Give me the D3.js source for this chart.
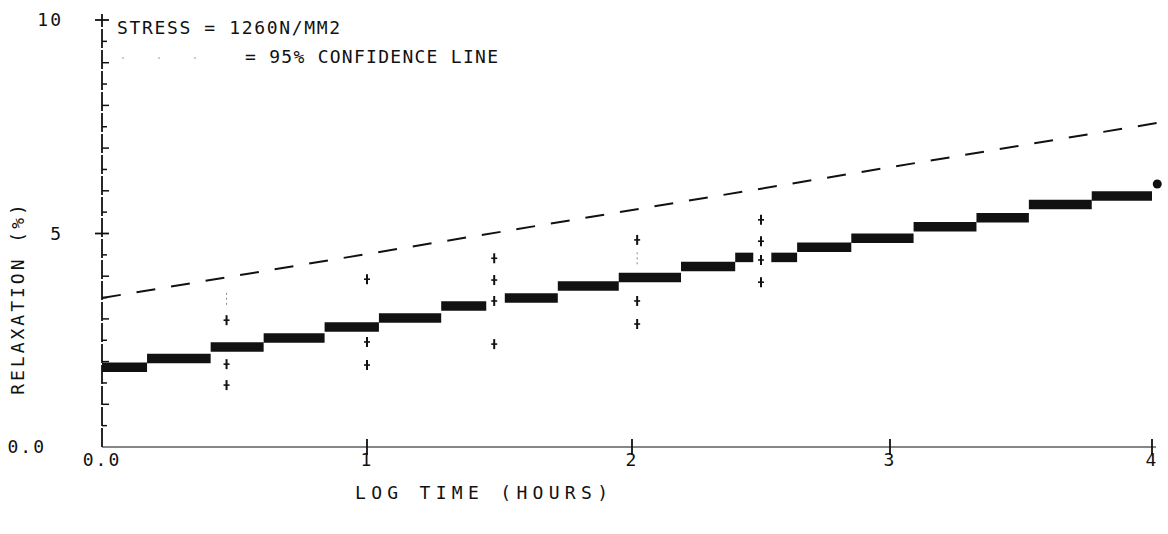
<!DOCTYPE html>
<html>
<head>
<meta charset="utf-8">
<script src="https://cdn.jsdelivr.net/npm/d3@7"></script>
<style>
  html, body { margin: 0; padding: 0; background: #fff; }
  svg { display: block; }
  text { font-family: "DejaVu Sans Mono", "Liberation Mono", monospace; fill: #111; }
</style>
</head>
<body>
<svg id="chart" width="1168" height="534"></svg>
<script>
// Relaxation step record (log hours vs %)
const stepStart = [0, 0.17, 0.41, 0.61, 0.84, 1.045, 1.28, 1.52, 1.72, 1.95, 2.19, 2.40, 2.54, 2.64, 2.85, 3.09, 3.33, 3.53, 3.77];
const stepEnd   = [0.17, 0.41, 0.61, 0.84, 1.045, 1.28, 1.45, 1.72, 1.95, 2.19, 2.40, 2.47, 2.64, 2.85, 3.09, 3.33, 3.53, 3.77, 4.00];
const stepValue = [1.87, 2.07, 2.34, 2.55, 2.81, 3.02, 3.30, 3.49, 3.77, 3.97, 4.23, 4.44, 4.44, 4.68, 4.89, 5.16, 5.37, 5.68, 5.88];
const lastPoint = [4.02, 6.16];

// 95% confidence line end points
const confX = [0, 4.05];
const confY = [3.49, 7.62];

// scatter marks along the vertical check columns
const checkX = [0.47, 1.0, 1.48, 2.02, 2.5];
const checkMarks = [
  [2.97, 1.94, 1.45],
  [3.93, 2.46, 1.92],
  [4.42, 3.91, 3.42, 2.41],
  [4.85, 3.42, 2.88],
  [5.32, 4.82, 4.38, 3.86]
];
const faintMarks = [[0.47, 3.47], [2.02, 4.42]];

const xTicks = [0, 1, 2, 3, 4];
const xTickLabels = ["0.0", "1", "2", "3", "4"];
const yTicks = [0, 5, 10];
const yTickLabels = ["0.0", "5", "10"];

const svg = d3.select("#chart");

// plotter axes are slightly uneven, so the x scale is piecewise
const x = d3.scaleLinear().domain([0, 1, 2, 3, 4]).range([102, 367, 632, 890, 1152]);
const y = d3.scaleLinear().domain([0, 10]).range([447, 20]);

const ink = "#111";

// y axis line
svg.append("line")
  .attr("x1", x(0)).attr("x2", x(0))
  .attr("y1", y(0)).attr("y2", y(10) - 6)
  .attr("stroke", ink).attr("stroke-width", 1.8)
  .attr("stroke-dasharray", "19,2");

// x axis line
svg.append("line")
  .attr("x1", x(0)).attr("x2", x(4) + 4)
  .attr("y1", y(0)).attr("y2", y(0))
  .attr("stroke", ink).attr("stroke-width", 1.2);

// y minor ticks every 0.5, crosses at labelled values
const yMinor = y.ticks(20).filter(v => v > 0 && yTicks.indexOf(v) < 0);
svg.append("g").selectAll("line").data(yMinor).join("line")
  .attr("x1", x(0)).attr("x2", (d) => x(0) + (d % 1 === 0 ? 7 : 5))
  .attr("y1", d => y(d)).attr("y2", d => y(d))
  .attr("stroke", ink).attr("stroke-width", 1.5);
svg.append("g").selectAll("line").data(yTicks.filter(v => v > 0)).join("line")
  .attr("x1", x(0) - 7).attr("x2", x(0) + 7)
  .attr("y1", d => y(d)).attr("y2", d => y(d))
  .attr("stroke", ink).attr("stroke-width", 1.8);

// x crosses
svg.append("g").selectAll("line").data(xTicks.filter(v => v > 0)).join("line")
  .attr("x1", d => x(d)).attr("x2", d => x(d))
  .attr("y1", y(0) - 8).attr("y2", y(0) + 8)
  .attr("stroke", ink).attr("stroke-width", 1.8);

// tick labels; the origin label on y sits further left to clear the x origin label
svg.append("g").selectAll("text").data(yTicks).join("text")
  .attr("x", d => d === 0 ? 46 : 63).attr("y", d => y(d))
  .attr("dy", "0.36em")
  .attr("text-anchor", "end")
  .attr("font-size", 18)
  .attr("letter-spacing", 2)
  .text((d, i) => yTickLabels[i]);

svg.append("g").selectAll("text").data(xTicks).join("text")
  .attr("x", d => x(d)).attr("y", y(0) + 13)
  .attr("dy", "0.36em")
  .attr("text-anchor", "middle")
  .attr("font-size", 18)
  .attr("letter-spacing", 2)
  .text((d, i) => xTickLabels[i]);

// axis titles
svg.append("text")
  .attr("x", 355).attr("y", 493)
  .attr("dy", "0.36em")
  .attr("font-size", 18)
  .attr("textLength", 253).attr("lengthAdjust", "spacing")
  .text("LOG TIME (HOURS)");

svg.append("text")
  .attr("transform", "translate(18,298) rotate(-90)")
  .attr("text-anchor", "middle")
  .attr("dy", "0.36em")
  .attr("font-size", 18)
  .attr("letter-spacing", 3)
  .text("RELAXATION (%)");

// legend
svg.append("text")
  .attr("x", 117).attr("y", 28)
  .attr("dy", "0.36em")
  .attr("font-size", 18)
  .attr("textLength", 223).attr("lengthAdjust", "spacing")
  .text("STRESS = 1260N/MM2");
svg.append("text")
  .attr("x", 245).attr("y", 57)
  .attr("dy", "0.36em")
  .attr("font-size", 18)
  .attr("textLength", 253).attr("lengthAdjust", "spacing")
  .text("= 95% CONFIDENCE LINE");
svg.append("line")
  .attr("x1", 122).attr("x2", 230).attr("y1", 58).attr("y2", 58)
  .attr("stroke", "#999").attr("stroke-width", 1.2)
  .attr("stroke-dasharray", "2,34");

// confidence line
svg.append("path")
  .attr("d", d3.line().x(d => x(d[0])).y(d => y(d[1]))(d3.zip(confX, confY)))
  .attr("fill", "none").attr("stroke", ink).attr("stroke-width", 2)
  .attr("stroke-dasharray", "19,16");

// check columns: short dashes with cross bars
const marks = [];
checkX.forEach((cx, i) => checkMarks[i].forEach(v => marks.push([cx, v])));
const mg = svg.append("g").attr("stroke", ink);
mg.selectAll("line.v").data(marks).join("line").attr("class", "v")
  .attr("x1", d => x(d[0])).attr("x2", d => x(d[0]))
  .attr("y1", d => y(d[1]) - 5).attr("y2", d => y(d[1]) + 5)
  .attr("stroke-width", 2);
mg.selectAll("line.h").data(marks).join("line").attr("class", "h")
  .attr("x1", d => x(d[0]) - 3).attr("x2", d => x(d[0]) + 3)
  .attr("y1", d => y(d[1])).attr("y2", d => y(d[1]))
  .attr("stroke-width", 1.6);
svg.append("g").selectAll("line").data(faintMarks).join("line")
  .attr("x1", d => x(d[0])).attr("x2", d => x(d[0]))
  .attr("y1", d => y(d[1]) - 6).attr("y2", d => y(d[1]) + 6)
  .attr("stroke", "#888").attr("stroke-width", 1)
  .attr("stroke-dasharray", "2,3");

// relaxation steps
svg.append("g").selectAll("line").data(stepValue).join("line")
  .attr("x1", (d, i) => x(stepStart[i])).attr("x2", (d, i) => x(stepEnd[i]))
  .attr("y1", d => y(d)).attr("y2", d => y(d))
  .attr("stroke", ink).attr("stroke-width", 9.5);

svg.append("circle")
  .attr("cx", x(lastPoint[0])).attr("cy", y(lastPoint[1]))
  .attr("r", 4.5).attr("fill", ink);
</script>
</body>
</html>
